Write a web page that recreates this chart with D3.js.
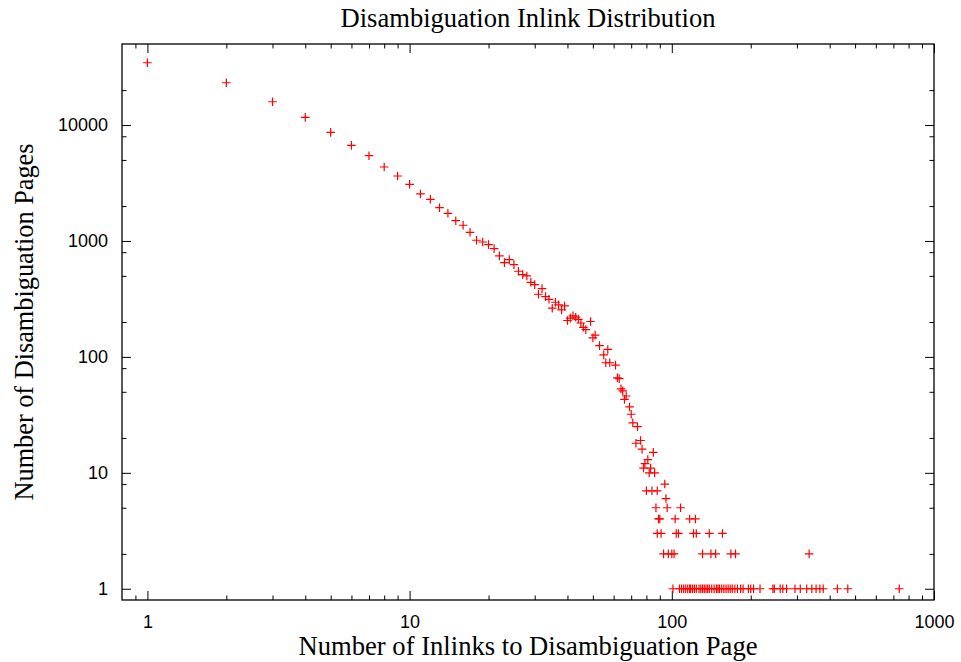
<!DOCTYPE html>
<meta charset="utf-8">
<html>
<head>
    <meta charset="utf-8">
    <title>Disambiguation Inlink Distribution</title>
    <style>
        body { margin: 0; background: #fff; }
    </style>
</head>
<body>
    <script src="https://d3js.org/d3.v7.min.js"></script>
    <script>
        // number of inlinks (x) and number of disambiguation pages having it (y)
        const inlinks = [
            1, 2, 3, 4, 5, 6, 7, 8, 9, 10, 11, 12, 13, 14, 15, 16, 17, 18, 19, 20,
            21, 22, 23, 24, 25, 26, 27, 28, 29, 30, 31, 32, 33, 34, 35, 36, 37, 38, 39, 40,
            41, 42, 43, 44, 45, 46, 47, 49, 50, 51, 53, 55, 56, 57, 58, 61, 62, 63, 64, 65,
            66, 67, 69, 70, 71, 73, 74, 76, 77, 78, 79, 80, 81, 82, 83, 84, 85, 86, 87, 88,
            88, 89, 90, 91, 93, 94, 95, 96, 97, 100, 102, 103, 104, 106, 108, 117, 121, 123, 124, 131,
            139, 141, 147, 156, 168, 175, 334,
            101, 107, 109, 111, 113, 115, 117, 118, 120, 122, 124, 127, 129, 131, 133, 135, 137, 139, 142, 145,
            148, 150, 152, 155, 158, 161, 164, 167, 170, 174, 178, 183, 187, 196, 200, 205, 217, 243, 246, 259,
            265, 274, 295, 309, 327, 342, 355, 367, 378, 428, 469, 737
        ];
        const pages = [
            34450, 23170, 15880, 11650, 8650, 6680, 5440, 4345, 3633, 3083, 2543, 2288, 1937, 1733, 1496, 1366, 1188, 1014, 980, 929,
            859, 743, 650, 690, 625, 548, 512, 499, 440, 420, 347, 388, 331, 314, 263, 296, 281, 254, 275, 206,
            216, 226, 220, 211, 196, 180, 172, 202, 146, 154, 125, 104, 89, 116, 89, 85, 66, 65, 53, 51,
            43, 46, 37, 32, 27, 18, 25, 19, 16, 11, 12, 7, 13, 10, 11, 7, 15, 10, 5, 7,
            3, 4, 4, 3, 2, 8, 6, 5, 2, 2, 2, 4, 3, 3, 5, 4, 3, 4, 3, 2,
            3, 2, 2, 3, 2, 2, 2,
            1, 1, 1, 1, 1, 1, 1, 1, 1, 1, 1, 1, 1, 1, 1, 1, 1, 1, 1, 1,
            1, 1, 1, 1, 1, 1, 1, 1, 1, 1, 1, 1, 1, 1, 1, 1, 1, 1, 1, 1,
            1, 1, 1, 1, 1, 1, 1, 1, 1, 1, 1, 1
        ];

        // ticks
        const xMajor = [1, 10, 100, 1000];
        const yMajor = [1, 10, 100, 1000, 10000];
        const xMinor = [0.9, 2, 3, 4, 5, 6, 7, 8, 9, 20, 30, 40, 50, 60, 70, 80, 90,
                        200, 300, 400, 500, 600, 700, 800, 900];
        const yMinor = [2, 5, 8, 20, 50, 80, 200, 500, 800, 2000, 5000, 8000, 20000];

        const titleText = "Disambiguation Inlink Distribution";
        const xTitle = "Number of Inlinks to Disambiguation Page";
        const yTitle = "Number of Disambiguation Pages";

        const width = 961, height = 662;
        const margin = {top: 44, right: 27, bottom: 62, left: 122};
        const innerW = width - margin.left - margin.right;
        const innerH = height - margin.top - margin.bottom;

        const svg = d3.select("body").append("svg")
            .attr("width", width)
            .attr("height", height)
            .attr("viewBox", `0 0 ${width} ${height}`);

        const scaleX = d3.scaleLog().domain([0.8, 1000]).range([0, innerW]);
        const scaleY = d3.scaleLog().domain([0.8, 50000]).range([innerH, 0]);

        const plot = svg.append("g")
            .attr("transform", `translate(${margin.left}, ${margin.top})`);

        const majorLen = 9, minorLen = 4.5;
        const sans = "'Liberation Sans', Arial, sans-serif";
        const serif = "'Liberation Serif', 'Times New Roman', serif";

        function styleAxis(g) {
            g.select(".domain").remove();
            g.selectAll(".tick line").attr("stroke", "#000").attr("stroke-width", 1);
            g.selectAll(".tick text")
                .attr("fill", "#000")
                .style("font-family", sans)
                .style("font-size", "18px");
        }

        // bottom / left with labels
        plot.append("g")
            .attr("transform", `translate(0, ${innerH})`)
            .call(d3.axisBottom(scaleX).tickValues(xMajor).tickFormat(d3.format("d"))
                .tickSizeInner(-majorLen).tickSizeOuter(0).tickPadding(15))
            .call(styleAxis);
        plot.append("g")
            .attr("transform", `translate(0, ${innerH})`)
            .call(d3.axisBottom(scaleX).tickValues(xMinor).tickFormat("")
                .tickSizeInner(-minorLen).tickSizeOuter(0))
            .call(styleAxis);
        plot.append("g")
            .call(d3.axisLeft(scaleY).tickValues(yMajor).tickFormat(d3.format("d"))
                .tickSizeInner(-majorLen).tickSizeOuter(0).tickPadding(14))
            .call(styleAxis);
        plot.append("g")
            .call(d3.axisLeft(scaleY).tickValues(yMinor).tickFormat("")
                .tickSizeInner(-minorLen).tickSizeOuter(0))
            .call(styleAxis);

        // mirrored ticks on top / right
        plot.append("g")
            .call(d3.axisTop(scaleX).tickValues(xMajor).tickFormat("")
                .tickSizeInner(-majorLen).tickSizeOuter(0))
            .call(styleAxis);
        plot.append("g")
            .call(d3.axisTop(scaleX).tickValues(xMinor).tickFormat("")
                .tickSizeInner(-minorLen).tickSizeOuter(0))
            .call(styleAxis);
        plot.append("g")
            .attr("transform", `translate(${innerW}, 0)`)
            .call(d3.axisRight(scaleY).tickValues(yMajor).tickFormat("")
                .tickSizeInner(-majorLen).tickSizeOuter(0))
            .call(styleAxis);
        plot.append("g")
            .attr("transform", `translate(${innerW}, 0)`)
            .call(d3.axisRight(scaleY).tickValues(yMinor).tickFormat("")
                .tickSizeInner(-minorLen).tickSizeOuter(0))
            .call(styleAxis);

        // frame
        plot.append("rect")
            .attr("width", innerW)
            .attr("height", innerH)
            .attr("fill", "none")
            .attr("stroke", "#000")
            .attr("stroke-width", 1.3);

        // points as "+" marks
        const arm = 4.3;
        const points = inlinks.map((x, i) => ({x: scaleX(x), y: scaleY(pages[i])}));
        plot.append("g")
            .selectAll("path")
            .data(points)
            .join("path")
            .attr("d", d => `M${d.x - arm},${d.y}H${d.x + arm}M${d.x},${d.y - arm}V${d.y + arm}`)
            .attr("stroke", "#ff0000")
            .attr("stroke-width", 1.2)
            .attr("fill", "none");

        // titles
        svg.append("text")
            .attr("x", 528)
            .attr("y", 27)
            .attr("text-anchor", "middle")
            .attr("textLength", 375)
            .attr("lengthAdjust", "spacingAndGlyphs")
            .style("font-family", serif)
            .style("font-size", "27px")
            .text(titleText);
        svg.append("text")
            .attr("x", 528)
            .attr("y", 655)
            .attr("text-anchor", "middle")
            .attr("textLength", 459)
            .attr("lengthAdjust", "spacingAndGlyphs")
            .style("font-family", serif)
            .style("font-size", "27px")
            .text(xTitle);
        svg.append("text")
            .attr("transform", "translate(33, 322) rotate(-90)")
            .attr("text-anchor", "middle")
            .attr("textLength", 357)
            .attr("lengthAdjust", "spacingAndGlyphs")
            .style("font-family", serif)
            .style("font-size", "27px")
            .text(yTitle);
    </script>
</body>
</html>
